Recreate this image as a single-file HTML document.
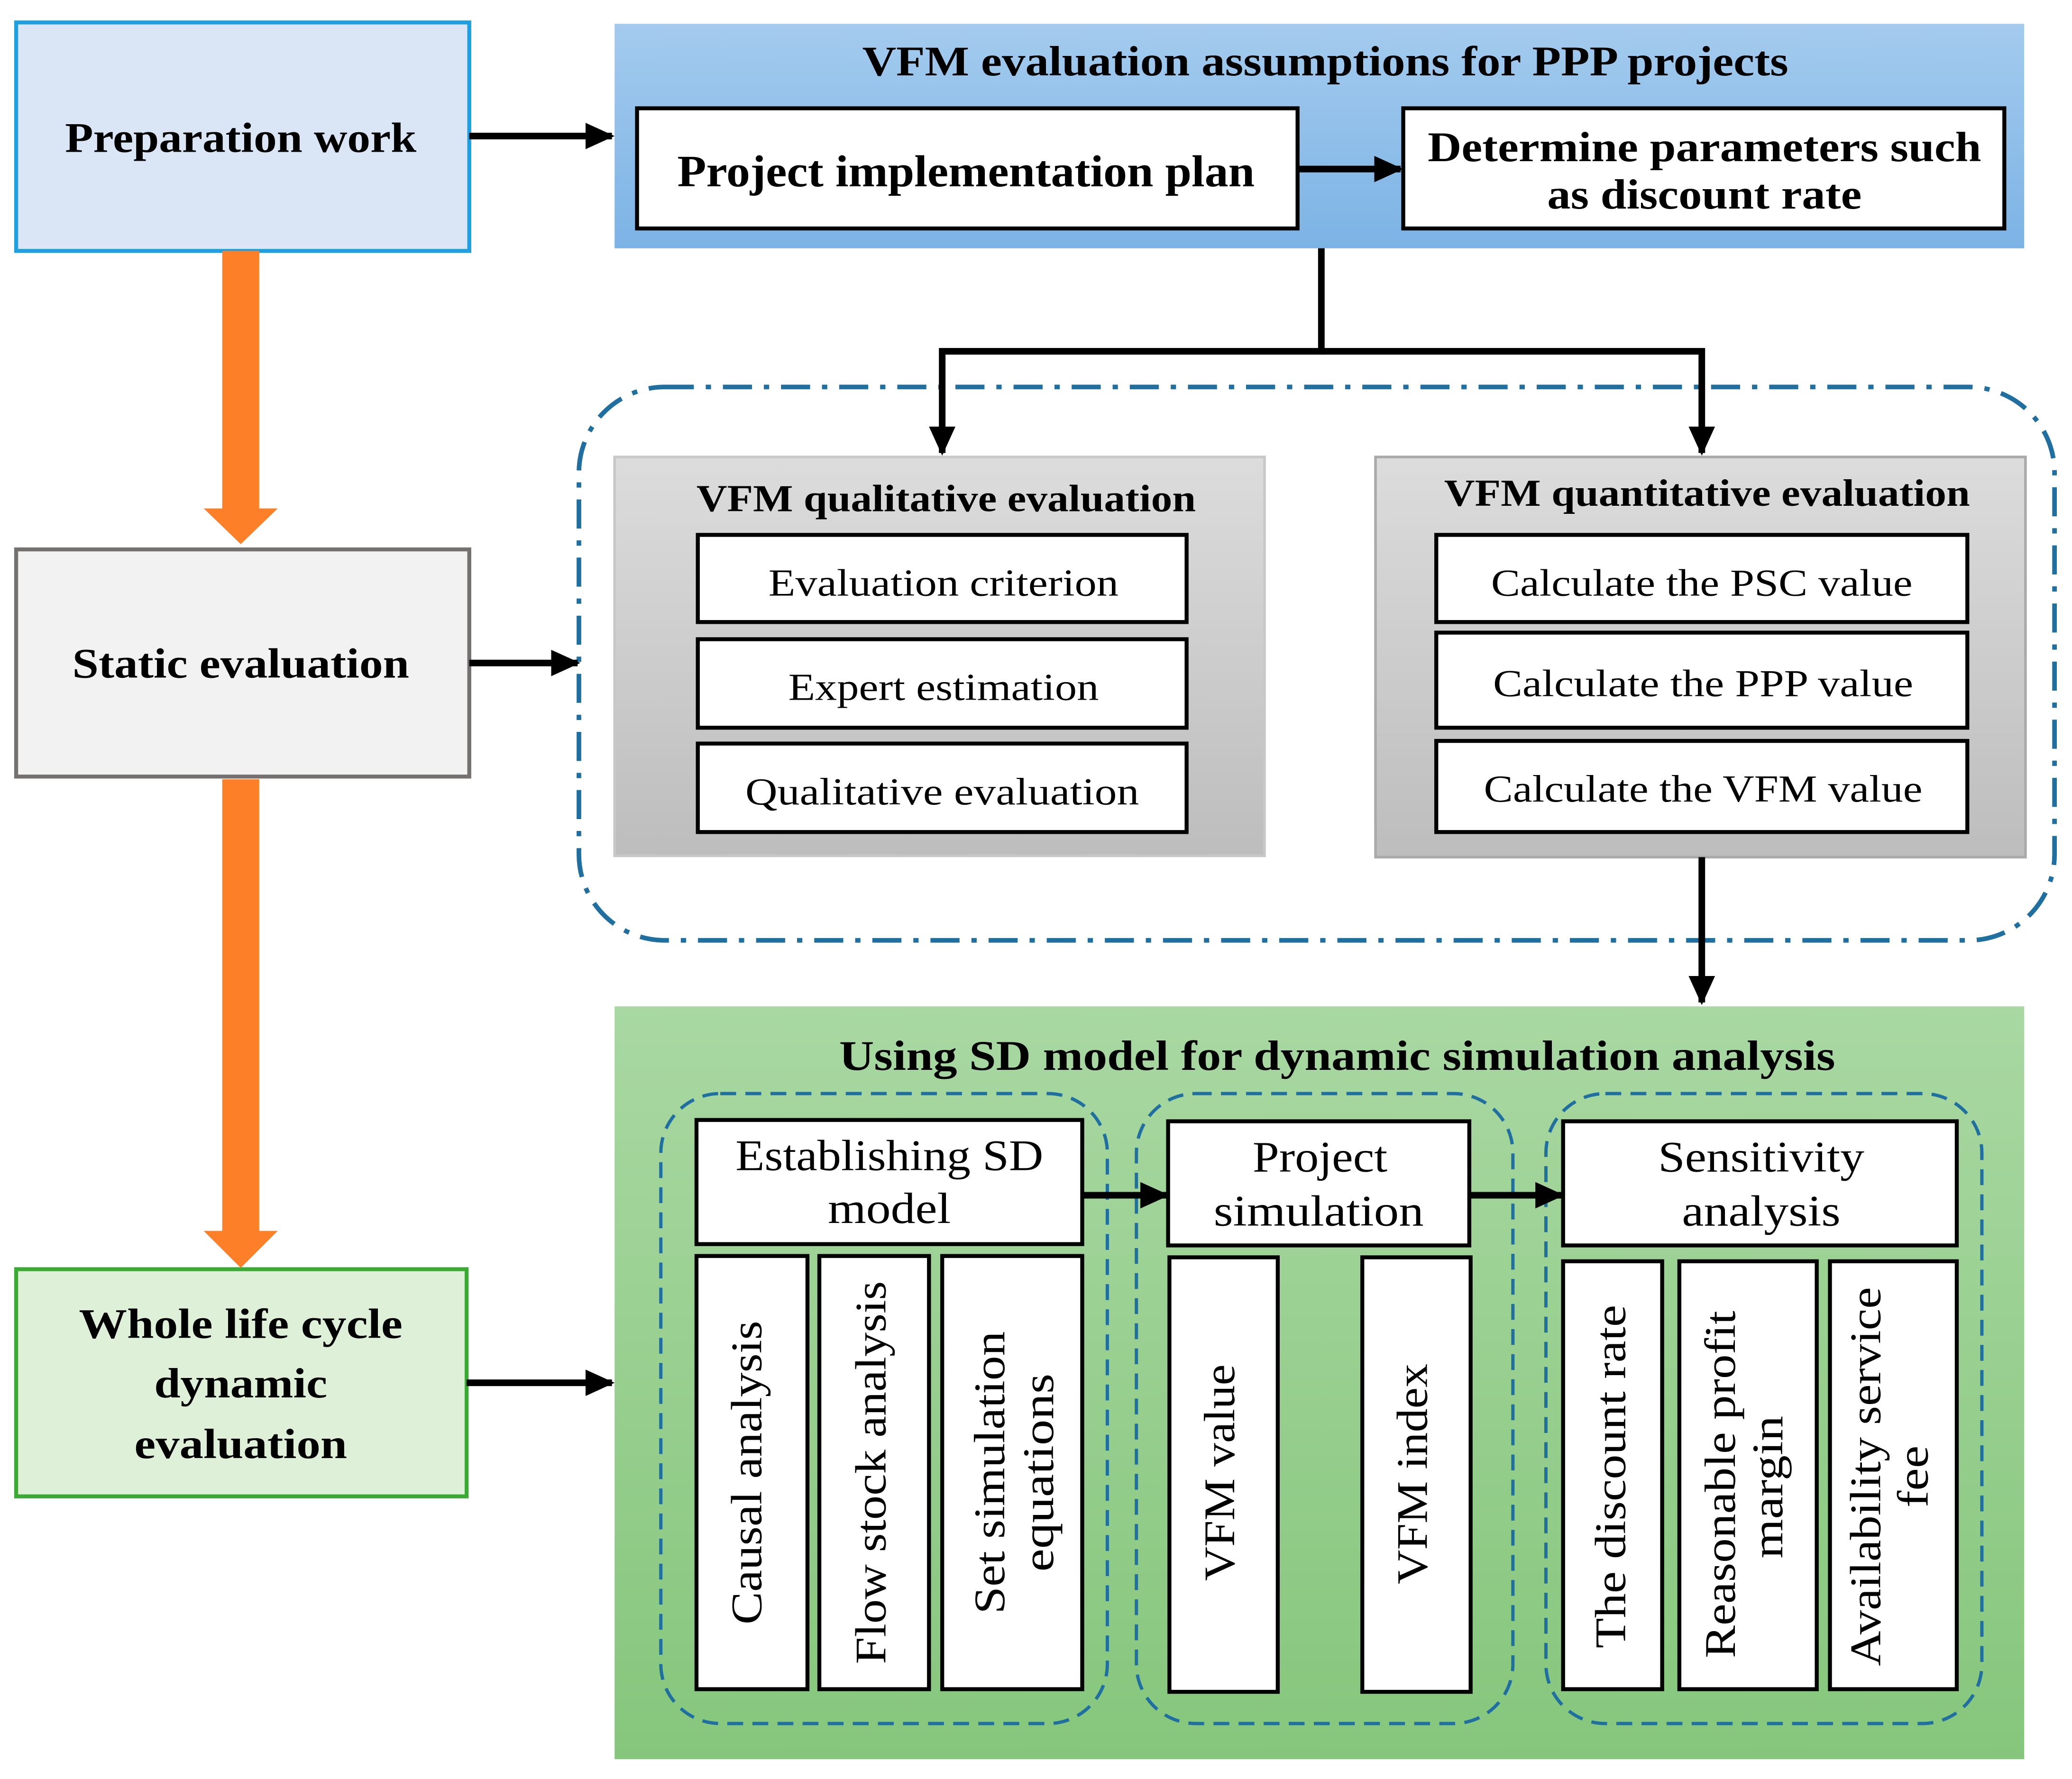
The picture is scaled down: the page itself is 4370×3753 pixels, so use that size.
<!DOCTYPE html>
<html><head><style>html,body{margin:0;padding:0;background:#fff}svg{display:block}</style></head>
<body>
<svg width="4370" height="3753" viewBox="0 0 1568 1347" xmlns="http://www.w3.org/2000/svg" font-family="'Liberation Serif', serif">
<defs>
<linearGradient id="gb" x1="0" y1="0" x2="0" y2="1"><stop offset="0" stop-color="#a4cbee"/><stop offset="1" stop-color="#7cb3e5"/></linearGradient>
<linearGradient id="gg" x1="0" y1="0" x2="0" y2="1"><stop offset="0" stop-color="#dcdcdc"/><stop offset="1" stop-color="#bdbdbd"/></linearGradient>
<linearGradient id="gr" x1="0" y1="0" x2="0" y2="1"><stop offset="0" stop-color="#a9d8a2"/><stop offset="1" stop-color="#86c67c"/></linearGradient>
<marker id="ah" markerWidth="22" markerHeight="20" refX="20" refY="10" orient="auto" markerUnits="userSpaceOnUse" viewBox="0 0 22 20"><path d="M0,0 L22,10 L0,20z" fill="#000"/></marker>
</defs>
<!-- left boxes -->
<rect x="12" y="17" width="343" height="173" fill="#dae6f5" stroke="#1ea0e0" stroke-width="3"/>
<text x="182" y="115" font-size="32" font-weight="bold" text-anchor="middle" textLength="266" lengthAdjust="spacingAndGlyphs">Preparation work</text>
<rect x="12" y="416" width="343" height="172" fill="#f2f2f2" stroke="#767171" stroke-width="3"/>
<text x="182" y="513" font-size="32" font-weight="bold" text-anchor="middle" textLength="255" lengthAdjust="spacingAndGlyphs">Static evaluation</text>
<rect x="12" y="961" width="341" height="172" fill="#dff0d8" stroke="#3aaa35" stroke-width="3"/>
<g font-size="32" font-weight="bold" text-anchor="middle" lengthAdjust="spacingAndGlyphs"><text x="182" y="1013" textLength="245" lengthAdjust="spacingAndGlyphs">Whole life cycle</text><text x="182" y="1058" textLength="131" lengthAdjust="spacingAndGlyphs">dynamic</text><text x="182" y="1104" textLength="161" lengthAdjust="spacingAndGlyphs">evaluation</text></g>
<!-- orange arrows -->
<g fill="#fd7f28"><path d="M168,190 H196 V385 H210 L182,412 L154,385 H168z"/><path d="M168,590 H196 V932 H210 L182,960 L154,932 H168z"/></g>
<!-- top blue box -->
<rect x="465" y="18" width="1067" height="170" fill="url(#gb)"/>
<text x="1003" y="57" font-size="32" font-weight="bold" text-anchor="middle" textLength="701" lengthAdjust="spacingAndGlyphs">VFM evaluation assumptions for PPP projects</text>
<rect x="482" y="82" width="500" height="91" fill="#fff" stroke="#000" stroke-width="3"/>
<text x="731" y="141" font-size="34" font-weight="bold" text-anchor="middle" textLength="437" lengthAdjust="spacingAndGlyphs">Project implementation plan</text>
<rect x="1062" y="82" width="455" height="91" fill="#fff" stroke="#000" stroke-width="3"/>
<text x="1290" y="122" font-size="32" font-weight="bold" text-anchor="middle" textLength="419" lengthAdjust="spacingAndGlyphs">Determine parameters such</text>
<text x="1290" y="158" font-size="32" font-weight="bold" text-anchor="middle" textLength="238" lengthAdjust="spacingAndGlyphs">as discount rate</text>
<!-- dash-dot container -->
<rect x="438" y="293" width="1117" height="419" rx="65" fill="none" stroke="#1f6fa0" stroke-width="3.5" stroke-dasharray="22,9,4,9"/>
<!-- gray boxes -->
<rect x="465" y="346" width="492" height="302" fill="url(#gg)" stroke="#c8c8c8" stroke-width="2"/>
<text x="716" y="387" font-size="29" font-weight="bold" text-anchor="middle" textLength="378" lengthAdjust="spacingAndGlyphs">VFM qualitative evaluation</text>
<rect x="1041" y="346" width="492" height="303" fill="url(#gg)" stroke="#aaa" stroke-width="2"/>
<text x="1292" y="383" font-size="29" font-weight="bold" text-anchor="middle" textLength="398" lengthAdjust="spacingAndGlyphs">VFM quantitative evaluation</text>
<g fill="#fff" stroke="#000" stroke-width="3">
<rect x="528" y="405" width="370" height="66"/><rect x="528" y="484" width="370" height="67"/><rect x="528" y="563" width="370" height="67"/>
<rect x="1087" y="405" width="402" height="66"/><rect x="1087" y="479" width="402" height="72"/><rect x="1087" y="561" width="402" height="69"/>
</g>
<g font-size="29" text-anchor="middle">
<text x="714" y="451" textLength="265" lengthAdjust="spacingAndGlyphs">Evaluation criterion</text><text x="714" y="530" textLength="235" lengthAdjust="spacingAndGlyphs">Expert estimation</text><text x="713" y="609" textLength="298" lengthAdjust="spacingAndGlyphs">Qualitative evaluation</text>
<text x="1288" y="451" textLength="319" lengthAdjust="spacingAndGlyphs">Calculate the PSC value</text><text x="1289" y="527" textLength="318" lengthAdjust="spacingAndGlyphs">Calculate the PPP value</text><text x="1289" y="607" textLength="332" lengthAdjust="spacingAndGlyphs">Calculate the VFM value</text>
</g>
<!-- green box -->
<rect x="465" y="762" width="1067" height="570" fill="url(#gr)"/>
<text x="1012" y="810" font-size="32" font-weight="bold" text-anchor="middle" textLength="754" lengthAdjust="spacingAndGlyphs">Using SD model for dynamic simulation analysis</text>
<g fill="none" stroke="#1f6fa0" stroke-width="2.5" stroke-dasharray="12,7">
<rect x="500" y="828" width="338" height="477" rx="45"/><rect x="860" y="828" width="285" height="477" rx="45"/><rect x="1170" y="828" width="330" height="477" rx="45"/>
</g>
<g fill="#fff" stroke="#000" stroke-width="3">
<rect x="527" y="848" width="292" height="94"/><rect x="527" y="951" width="84" height="328"/><rect x="620" y="951" width="83" height="328"/><rect x="713" y="951" width="106" height="328"/>
<rect x="884" y="849" width="228" height="94"/><rect x="885" y="952" width="82" height="329"/><rect x="1031" y="952" width="82" height="329"/>
<rect x="1183" y="849" width="298" height="94"/><rect x="1183" y="955" width="75" height="324"/><rect x="1271" y="955" width="104" height="324"/><rect x="1385" y="955" width="96" height="324"/>
</g>
<g font-size="33" text-anchor="middle">
<text x="673" y="886" textLength="233" lengthAdjust="spacingAndGlyphs">Establishing SD</text><text x="673" y="926" textLength="93" lengthAdjust="spacingAndGlyphs">model</text>
<text x="999" y="887" textLength="102" lengthAdjust="spacingAndGlyphs">Project</text><text x="998" y="928" textLength="159" lengthAdjust="spacingAndGlyphs">simulation</text>
<text x="1333" y="887" textLength="156" lengthAdjust="spacingAndGlyphs">Sensitivity</text><text x="1333" y="928" textLength="120" lengthAdjust="spacingAndGlyphs">analysis</text>
<text transform="translate(576,1115) rotate(-90)" textLength="230" lengthAdjust="spacingAndGlyphs">Causal analysis</text>
<text transform="translate(670,1115) rotate(-90)" textLength="290" lengthAdjust="spacingAndGlyphs">Flow stock analysis</text>
<text transform="translate(760,1115) rotate(-90)" textLength="214" lengthAdjust="spacingAndGlyphs">Set simulation</text>
<text transform="translate(797,1115) rotate(-90)" textLength="150" lengthAdjust="spacingAndGlyphs">equations</text>
<text transform="translate(934,1115) rotate(-90)" textLength="164" lengthAdjust="spacingAndGlyphs">VFM value</text>
<text transform="translate(1080,1116) rotate(-90)" textLength="167" lengthAdjust="spacingAndGlyphs">VFM index</text>
<text transform="translate(1230,1118) rotate(-90)" textLength="260" lengthAdjust="spacingAndGlyphs">The discount rate</text>
<text transform="translate(1313,1124) rotate(-90)" textLength="263" lengthAdjust="spacingAndGlyphs">Reasonable profit</text>
<text transform="translate(1349,1126) rotate(-90)" textLength="108" lengthAdjust="spacingAndGlyphs">margin</text>
<text transform="translate(1423,1118) rotate(-90)" textLength="287" lengthAdjust="spacingAndGlyphs">Availability service</text>
<text transform="translate(1459,1118) rotate(-90)" textLength="47" lengthAdjust="spacingAndGlyphs">fee</text>
</g>
<!-- black connectors -->
<g stroke="#000" stroke-width="5" fill="none" marker-end="url(#ah)">
<path d="M355,103 H463"/><path d="M355,502 H437"/><path d="M353,1047 H463"/>
<path d="M982,128 H1060"/>
<path d="M1000,188 V266 H713 V343"/><path d="M1000,266 H1288 V343"/>
<path d="M1288,649 V759"/>
<path d="M819,905 H883"/><path d="M1112,905 H1182"/>
</g>
</svg>
</body></html>
